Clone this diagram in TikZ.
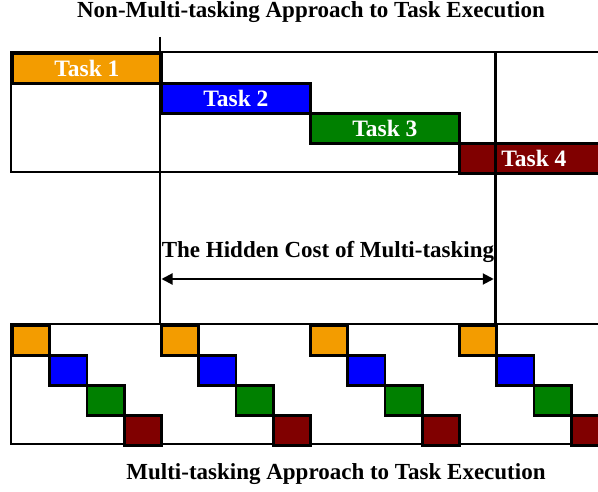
\documentclass[tikz,border=0pt]{standalone}
\usepackage{fontspec}
\setmainfont{Liberation Serif}
\usetikzlibrary{arrows.meta}
\definecolor{torange}{HTML}{F39C00}
\definecolor{tblue}{HTML}{0000FF}
\definecolor{tgreen}{HTML}{008000}
\definecolor{tred}{HTML}{800000}
\begin{document}
\begin{tikzpicture}[x=1pt,y=-1pt,
  frame/.style={draw=black,line width=2.8pt},
  taskbar/.style={draw=black,line width=2.8pt,minimum width=149pt,minimum height=30pt,inner sep=0pt,anchor=north west,text=white,font=\bfseries\fontsize{23.5}{23.5}\selectfont},
  slice/.style={draw=black,line width=2.8pt,minimum width=37.25pt,minimum height=30pt,inner sep=0pt,anchor=north west},
  title/.style={font=\bfseries\fontsize{23}{23}\selectfont,anchor=base,inner sep=0pt},
  divider/.style={draw=black,line width=2.8pt},
  span/.style={draw=black,line width=2pt,{Triangle[length=11pt,width=11pt]}-{Triangle[length=11pt,width=11pt]}}]
\useasboundingbox (0,0) rectangle (598,492);
\clip (0,0) rectangle (598,492);
\fill[white] (0,0) rectangle (598,492);
% titles
\node[title] (toptitle) at (311,18) {Non-Multi-tasking Approach to Task Execution};
\node[title] (midtitle) at (328,258) {The Hidden Cost of Multi-tasking};
\node[title] (bottitle) at (336,479) {Multi-tasking Approach to Task Execution};
% frames
\draw[frame] (11,52) rectangle (620,172);
\draw[frame] (11,324) rectangle (620,444);
% top tasks
\node[taskbar,fill=torange] (t1) at (11,52) {Task 1};
\node[taskbar,fill=tblue] (t2) at (160,82) {Task 2};
\node[taskbar,fill=tgreen] (t3) at (309,112) {Task 3};
\node[taskbar,fill=tred] (t4) at (458,142) {Task 4};
% bottom slices
\foreach \k in {0,1,2,3}{
  \node[slice,fill=torange] (s\k a) at ({11+149*\k},324) {};
  \node[slice,fill=tblue] (s\k b) at ({11+149*\k+37.25},354) {};
  \node[slice,fill=tgreen] (s\k c) at ({11+149*\k+74.5},384) {};
  \node[slice,fill=tred] (s\k d) at ({11+149*\k+111.75},414) {};
}
% dividers
\coordinate (v1top) at (160,37);
\coordinate (v1bot) at (160,324);
\coordinate (v2top) at (495.25,52);
\coordinate (v2bot) at (495.25,324);
\draw[divider] (v1top) -- (v1bot);
\draw[divider] (v2top) -- (v2bot);
% hidden cost arrow
\coordinate (al) at (161.5,279);
\coordinate (ar) at (493.75,279);
\draw[span] (al) -- (ar);
\end{tikzpicture}
\end{document}
